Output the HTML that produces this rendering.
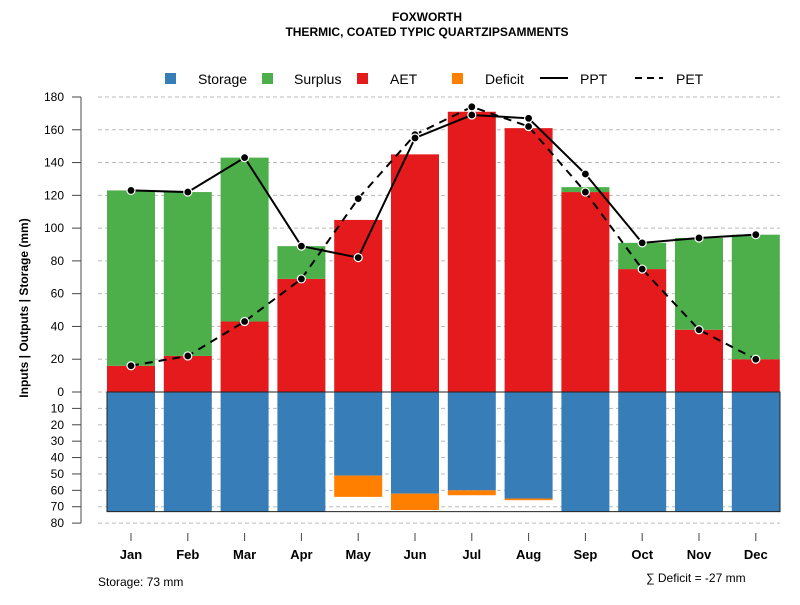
<!DOCTYPE html>
<html><head><meta charset="utf-8"><style>
body{margin:0;background:#fff;font-family:"Liberation Sans",Arial,sans-serif}
svg text{font-family:"Liberation Sans",Arial,sans-serif}
</style></head><body>
<svg id="c" width="800" height="600" xmlns="http://www.w3.org/2000/svg">
<text x="427" y="21" text-anchor="middle" font-size="12" font-weight="bold">FOXWORTH</text>
<text x="427" y="36" text-anchor="middle" font-size="12" font-weight="bold">THERMIC, COATED TYPIC QUARTZIPSAMMENTS</text>
<text transform="translate(28,308) rotate(-90)" text-anchor="middle" font-size="12" font-weight="bold">Inputs | Outputs | Storage    (mm)</text>
<g id="legend">
<rect x="165" y="73" width="11" height="11" fill="#377eb8"/>
<text x="198" y="84" font-size="14">Storage</text>
<rect x="262" y="73" width="11" height="11" fill="#4daf4a"/>
<text x="294" y="84" font-size="14">Surplus</text>
<rect x="357" y="73" width="11" height="11" fill="#e41a1c"/>
<text x="390" y="84" font-size="14">AET</text>
<rect x="452" y="73" width="11" height="11" fill="#ff7f00"/>
<text x="485" y="84" font-size="14">Deficit</text>
<line x1="540" y1="78" x2="568" y2="78" stroke="#000" stroke-width="2"/>
<text x="580" y="84" font-size="14">PPT</text>
<line x1="635" y1="78" x2="663" y2="78" stroke="#000" stroke-width="2" stroke-dasharray="7,5"/>
<text x="676" y="84" font-size="14">PET</text>
</g>
<g id="grid"></g><g id="bars"></g><g id="lines"></g><g id="axes"></g>
<text x="98" y="586" font-size="12">Storage: 73 mm</text>
<text x="646" y="582" font-size="12">∑ Deficit = -27 mm</text>
</svg>
<script>
const months=["Jan","Feb","Mar","Apr","May","Jun","Jul","Aug","Sep","Oct","Nov","Dec"];
const ppt=[123,122,143,89,82,155,169,167,133,91,94,96];
const pet=[16,22,43,69,118,157,174,162,122,75,38,20];
const aet=[16,22,43,69,105,145,171,161,122,75,38,20];
const surplus=[107,100,100,20,0,0,0,0,3,16,56,76];
const storage=[73,73,73,73,51,62,60,65,73,73,73,73];
const deficit=[0,0,0,0,13,10,3,1,0,0,0,0];
const upTicks=[0,20,40,60,80,100,120,140,160,180];
const lowTicks=[10,20,30,40,50,60,70,80];
const storageMax=73;
const NS="http://www.w3.org/2000/svg";
const y0=392,k=295/180;
const yU=v=>y0-v*k, yL=v=>y0+v*k;
const xC=i=>131+i*56.8;
const bw=48;
function mk(p,t,a){const e=document.createElementNS(NS,t);for(const n in a)e.setAttribute(n,a[n]);document.getElementById(p).appendChild(e);return e;}
// grid
upTicks.forEach(v=>{const l=mk('grid','line',{x1:98,x2:780,y1:yU(v),y2:yU(v),stroke:'#bbb','stroke-dasharray':'4,3'});

});
lowTicks.forEach(v=>{const l=mk('grid','line',{x1:98,x2:780,y1:yL(v),y2:yL(v),stroke:'#bbb','stroke-dasharray':'4,3'});

});
// bars
months.forEach((m,i)=>{
 const x=xC(i)-bw/2;
 let r=mk('bars','rect',{x:x,y:yU(aet[i]),width:bw,height:aet[i]*k,fill:'#e41a1c'});
 
 
 if(surplus[i]>0){r=mk('bars','rect',{x:x,y:yU(aet[i]+surplus[i]),width:bw,height:surplus[i]*k,fill:'#4daf4a'});
 
 }
 r=mk('bars','rect',{x:x,y:y0,width:bw,height:storage[i]*k,fill:'#377eb8'});
 
 
 if(deficit[i]>0){r=mk('bars','rect',{x:x,y:yL(storage[i]),width:bw,height:deficit[i]*k,fill:'#ff7f00'});
 
 }
});
let box=mk('bars','rect',{x:xC(0)-bw/2,y:y0,width:780-(xC(0)-bw/2),height:storageMax*k,fill:'none',stroke:'#222','stroke-width':1});


// lines
function series(arr,dash,name){
 const p=mk('lines','polyline',{points:arr.map((v,i)=>xC(i)+','+yU(v)).join(' '),fill:'none',stroke:'#000','stroke-width':2,'stroke-dasharray':dash});
 
 
 arr.forEach((v,i)=>{const c=mk('lines','circle',{cx:xC(i),cy:yU(v),r:4,fill:'#000',stroke:'#fff','stroke-width':1.2});
 
 });
}
series(pet,'8,6','pet');
series(ppt,'none','ppt');
// axes
let ax=mk('axes','line',{x1:81,x2:81,y1:yU(180),y2:yL(80),stroke:'#888','stroke-width':1.5});


upTicks.forEach(v=>{mk('axes','line',{x1:72,x2:81,y1:yU(v),y2:yU(v),stroke:'#444'});
 const t=mk('axes','text',{x:64,y:yU(v)+4,'text-anchor':'end','font-size':12});t.textContent=v;
 
 });
lowTicks.forEach(v=>{mk('axes','line',{x1:72,x2:81,y1:yL(v),y2:yL(v),stroke:'#444'});
 const t=mk('axes','text',{x:64,y:yL(v)+4,'text-anchor':'end','font-size':12});t.textContent=v;
 
 });
months.forEach((m,i)=>{mk('axes','line',{x1:xC(i),x2:xC(i),y1:533,y2:541,stroke:'#444'});
 const t=mk('axes','text',{x:xC(i),y:559,'text-anchor':'middle','font-size':13,'font-weight':'bold'});t.textContent=m;
 
 });
</script>
</body></html>
